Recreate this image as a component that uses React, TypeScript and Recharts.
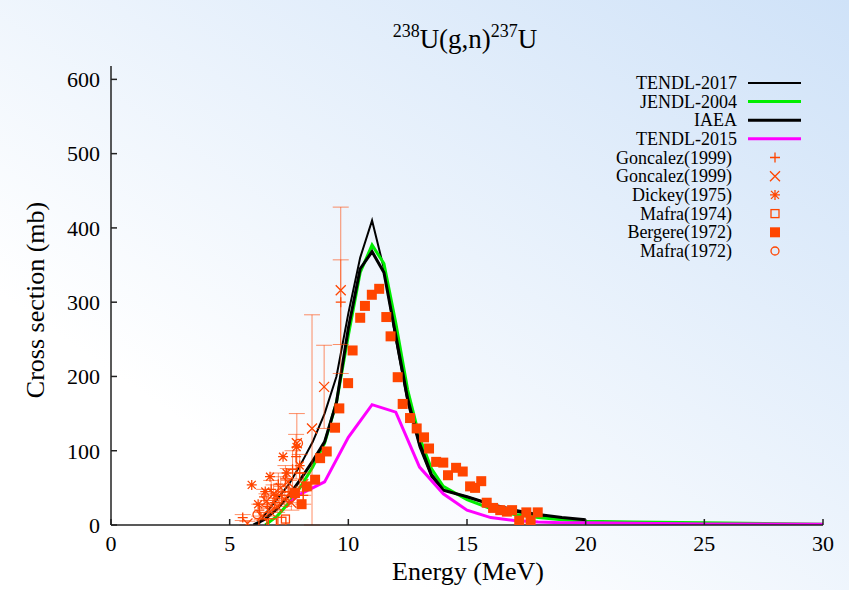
import React from 'react';
import {
  ComposedChart,
  Line,
  Scatter,
  XAxis,
  YAxis,
  ErrorBar,
  Legend,
} from 'recharts';

// axes
const xTicks = [0, 5, 10, 15, 20, 25, 30];
const yTicks = [0, 100, 200, 300, 400, 500, 600];

// evaluated curves: [energy MeV, cross section mb]
const tendl2017 = [
  [6.2, 0], [6.5, 15], [7, 35], [7.5, 55], [8, 82], [8.5, 112], [9, 150], [9.5, 200],
  [10, 285], [10.5, 360], [11, 410], [11.5, 345], [12, 250], [12.5, 165], [13, 105],
  [13.5, 65], [14, 47], [15, 38], [16, 28], [17, 18], [18, 12], [19, 9], [20, 6],
];
const jendl2004 = [
  [6.5, 0], [7, 12], [7.5, 30], [8, 52], [8.5, 78], [9, 110], [9.5, 165], [10, 255],
  [10.5, 340], [11, 377], [11.5, 352], [12, 272], [12.5, 182], [13, 118], [13.5, 76],
  [14, 52], [15, 34], [16, 22], [17, 14], [18, 10], [19, 7], [20, 5], [22, 4], [25, 3],
  [27.5, 2], [30, 1],
];
const iaea = [
  [6, 0], [6.5, 8], [7, 22], [7.5, 40], [8, 62], [8.5, 86], [9, 112], [9.5, 165],
  [10, 265], [10.5, 345], [11, 368], [11.5, 340], [12, 255], [12.5, 170], [13, 110],
  [13.5, 68], [14, 47], [15, 38], [16, 28], [17, 20], [18, 14], [19, 10], [20, 7],
];
const tendl2015 = [
  [7.5, 30], [8, 42], [9, 58], [10, 118], [11, 162], [12, 152], [13, 78], [14, 42],
  [15, 20], [16, 10], [17, 6], [18, 4], [19, 3], [20, 3], [25, 1.5], [30, 1],
];

// measurements: [energy, value, err low, err high]
const gonzalezPlus = [
  [5.55, 10, 4, 4], [6.25, 20, 8, 8], [6.45, 38, 10, 10], [6.6, 25, 8, 8], [6.75, 48, 12, 12],
  [6.9, 30, 10, 10], [7.05, 55, 15, 15], [7.2, 40, 12, 12], [7.35, 62, 18, 18], [7.5, 45, 15, 15],
  [7.65, 75, 25, 25], [7.8, 92, 30, 30], [7.95, 70, 25, 25], [8.1, 40, 12, 12], [9.68, 300, 57, 57],
];
const gonzalezCross = [
  [5.75, 2, 2, 3], [6.35, 12, 5, 5], [6.55, 32, 10, 10], [6.7, 18, 6, 6], [6.85, 42, 12, 12],
  [7.0, 25, 8, 8], [7.15, 50, 15, 15], [7.3, 35, 10, 10], [7.45, 58, 18, 18], [7.6, 30, 10, 10],
  [7.83, 110, 40, 40], [8.1, 55, 15, 15], [8.47, 130, 130, 153], [8.98, 186, 56, 56],
  [9.68, 316, 112, 112],
];
const dickey = [
  [5.93, 54], [6.2, 28], [6.5, 45], [6.7, 65], [6.95, 40], [7.25, 92], [7.4, 70], [7.82, 105], [7.95, 80],
];
const mafra1974 = [
  [6.4, 3], [6.8, 3], [7.2, 5], [7.35, 8],
];
const bergere = [
  [7.75, 43], [8.03, 28], [8.25, 52], [8.6, 61], [8.81, 90], [9.09, 99], [9.44, 131], [9.62, 157],
  [9.99, 191], [10.18, 235], [10.5, 279], [10.7, 295], [10.99, 310], [11.3, 318], [11.6, 280],
  [11.78, 254], [12.08, 199], [12.29, 163], [12.6, 144], [12.88, 130], [13.19, 118], [13.4, 103],
  [13.7, 85], [14.0, 84], [14.2, 67], [14.54, 77], [14.82, 72], [15.13, 52], [15.34, 50],
  [15.6, 59], [15.83, 30], [16.1, 23], [16.4, 20], [16.68, 18], [16.9, 20], [17.2, 6], [17.5, 17],
  [17.68, 6], [17.98, 17],
];
const mafra1972 = [
  [6.15, 14], [6.95, 28], [7.55, 36], [7.9, 110],
];

const toLine = (a: number[][]) => a.map(([e, y]) => ({ e, y }));
const toPts = (a: number[][]) =>
  a.map(([e, y, lo, hi]) => ({ e, y, err: lo !== undefined ? [lo, hi] : undefined }));

const OR = '#ff4500';
const FONT = 'Liberation Serif, Times New Roman, serif';

const plusShape = (p: any) => (
  <path d={`M${p.cx - 5},${p.cy}h10M${p.cx},${p.cy - 5}v10`} stroke={OR} strokeWidth={1.3} fill="none" />
);
const crossShape = (p: any) => (
  <path d={`M${p.cx - 5},${p.cy - 5}l10,10M${p.cx - 5},${p.cy + 5}l10,-10`} stroke={OR} strokeWidth={1.3} fill="none" />
);
const starShape = (p: any) => (
  <path
    d={`M${p.cx - 5},${p.cy}h10M${p.cx},${p.cy - 5}v10M${p.cx - 4},${p.cy - 4}l8,8M${p.cx - 4},${p.cy + 4}l8,-8`}
    stroke={OR} strokeWidth={1.3} fill="none"
  />
);
const openSquare = (p: any) => (
  <rect x={p.cx - 4} y={p.cy - 4} width={8} height={8} stroke={OR} strokeWidth={1.3} fill="none" />
);
const filledSquare = (p: any) => (
  <rect x={p.cx - 5} y={p.cy - 5} width={10} height={10} fill={OR} />
);
const openCircle = (p: any) => (
  <circle cx={p.cx} cy={p.cy} r={4} stroke={OR} strokeWidth={1.3} fill="none" />
);

const lineItems = [
  { name: 'TENDL-2017', color: '#000000', w: 2 },
  { name: 'JENDL-2004', color: '#00ee00', w: 3 },
  { name: 'IAEA', color: '#000000', w: 3 },
  { name: 'TENDL-2015', color: '#ff00ff', w: 3 },
];
const pointItems = [
  { name: 'Goncalez(1999)', shape: plusShape },
  { name: 'Goncalez(1999)', shape: crossShape },
  { name: 'Dickey(1975)', shape: starShape },
  { name: 'Mafra(1974)', shape: openSquare },
  { name: 'Bergere(1972)', shape: filledSquare },
  { name: 'Mafra(1972)', shape: openCircle },
];

const Overlay = () => (
  <svg width={849} height={270} style={{ position: 'absolute', left: 0, top: 0, pointerEvents: 'none' }}>
    <text x={465} y={48} textAnchor="middle" style={{ fontFamily: FONT }} fontSize={27} fill="#000">
      <tspan fontSize={18} dy={-11}>238</tspan>
      <tspan dy={11}>U(g,n)</tspan>
      <tspan fontSize={18} dy={-11}>237</tspan>
      <tspan dy={11}>U</tspan>
    </text>
    {lineItems.map((it, i) => {
      const y = 83 + i * 18.6;
      return (
        <g key={it.name}>
          <text x={737} y={y + 6} textAnchor="end" style={{ fontFamily: FONT }} fontSize={18} fill="#000">{it.name}</text>
          <line x1={748} x2={801} y1={y} y2={y} stroke={it.color} strokeWidth={it.w} />
        </g>
      );
    })}
    {pointItems.map((it, i) => {
      const y = 157.5 + i * 18.7;
      return (
        <g key={i}>
          <text x={732} y={y + 6} textAnchor="end" style={{ fontFamily: FONT }} fontSize={18} fill="#000">{it.name}</text>
          {it.shape({ cx: 775, cy: y })}
        </g>
      );
    })}
  </svg>
);

const tickStyle = { fill: '#000', fontSize: 22, fontFamily: FONT, style: { fontFamily: FONT } };

export default function App() {
  return (
    <div
      style={{
        position: 'absolute',
        left: 0,
        top: 0,
        width: 849,
        height: 590,
        background: 'linear-gradient(to top right, #ffffff 25%, #cfe2f8 100%)',
        fontFamily: FONT,
      }}
    >
      <ComposedChart width={849} height={590} margin={{ top: 66, right: 26, left: 0, bottom: 0 }} style={{ fontFamily: FONT }}>
        <XAxis
          xAxisId="top"
          orientation="top"
          type="number"
          dataKey="e"
          domain={[0, 30]}
          ticks={xTicks}
          height={0}
          tick={false}
          tickSize={-6}
          stroke="#222"
          strokeWidth={1.5}
        />
        <YAxis
          yAxisId="right"
          orientation="right"
          type="number"
          domain={[0, 618]}
          ticks={yTicks}
          width={0}
          tick={false}
          tickSize={-6}
          stroke="#222"
          strokeWidth={1.5}
        />
        <XAxis
          type="number"
          dataKey="e"
          domain={[0, 30]}
          ticks={xTicks}
          height={65}
          tickSize={-6}
          tickMargin={16}
          tick={tickStyle}
          stroke="#222"
          strokeWidth={1.5}
          label={{
            content: () => (
              <text x={468} y={580} textAnchor="middle" style={{ fontFamily: FONT }} fontSize={26} fill="#000">
                Energy (MeV)
              </text>
            ),
          }}
        />
        <YAxis
          type="number"
          dataKey="y"
          domain={[0, 618]}
          ticks={yTicks}
          allowDataOverflow
          width={111}
          tickSize={-6}
          tickMargin={17}
          tick={tickStyle}
          stroke="#222"
          strokeWidth={1.5}
          label={{
            content: () => (
              <text
                x={44}
                y={300}
                transform="rotate(-90 44 300)"
                textAnchor="middle"
                style={{ fontFamily: FONT }}
                fontSize={26}
                fill="#000"
              >
                Cross section (mb)
              </text>
            ),
          }}
        />
        <Legend
          layout="horizontal"
          verticalAlign="middle"
          align="center"
          wrapperStyle={{ position: 'absolute', left: 0, top: 0, width: 849, height: 0 }}
          content={() => <Overlay />}
        />
        <Line data={toLine(tendl2017)} dataKey="y" stroke="#000" strokeWidth={2} dot={false} isAnimationActive={false} />
        <Line data={toLine(jendl2004)} dataKey="y" stroke="#00ee00" strokeWidth={3} dot={false} isAnimationActive={false} />
        <Line data={toLine(iaea)} dataKey="y" stroke="#000" strokeWidth={3} dot={false} isAnimationActive={false} />
        <Line data={toLine(tendl2015)} dataKey="y" stroke="#ff00ff" strokeWidth={3} dot={false} isAnimationActive={false} />
        <Scatter data={toPts(gonzalezPlus)} dataKey="y" shape={plusShape} isAnimationActive={false}>
          <ErrorBar dataKey="err" direction="y" width={8} stroke={OR} strokeWidth={1} strokeOpacity={0.6} />
        </Scatter>
        <Scatter data={toPts(gonzalezCross)} dataKey="y" shape={crossShape} isAnimationActive={false}>
          <ErrorBar dataKey="err" direction="y" width={8} stroke={OR} strokeWidth={1} strokeOpacity={0.6} />
        </Scatter>
        <Scatter data={toPts(dickey)} dataKey="y" shape={starShape} isAnimationActive={false} />
        <Scatter data={toPts(mafra1974)} dataKey="y" shape={openSquare} isAnimationActive={false} />
        <Scatter data={toPts(mafra1972)} dataKey="y" shape={openCircle} isAnimationActive={false} />
        <Scatter data={toPts(bergere)} dataKey="y" shape={filledSquare} isAnimationActive={false} />
      </ComposedChart>
    </div>
  );
}
